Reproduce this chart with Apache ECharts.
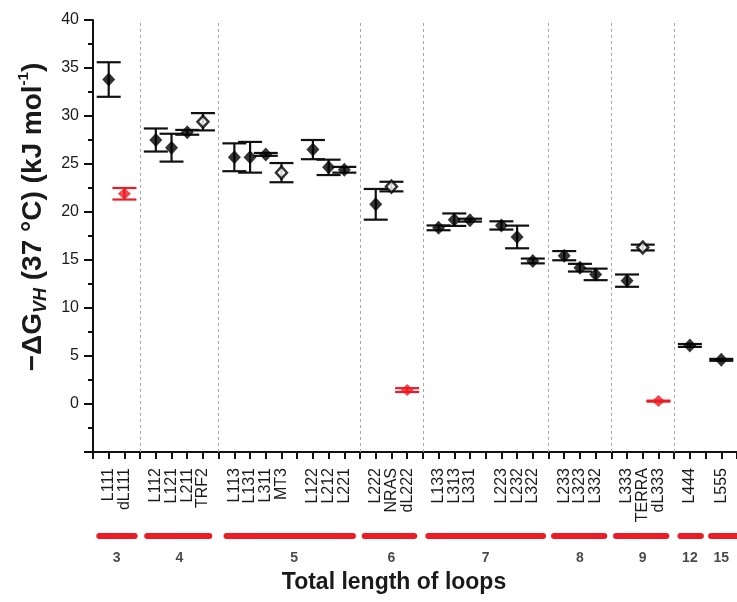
<!DOCTYPE html>
<html>
<head>
<meta charset="utf-8">
<script src="https://cdn.jsdelivr.net/npm/echarts@6/dist/echarts.min.js"></script>
<style>
html,body{margin:0;padding:0;background:#fff;}
#chart{width:737px;height:602px;}
</style>
</head>
<body>
<div id="chart"></div>
<script>
// ---- data ----
const sampleNames = ['L111','dL111','L112','L121','L211','TRF2','L113','L131','L311','MT3','L122','L212','L221','L222','NRAS','dL222','L133','L313','L331','L223','L232','L322','L233','L323','L332','L333','TERRA','dL333','L444','L555'];
const sampleSlots = [1,2,4,5,6,7,9,10,11,12,14,15,16,18,19,20,22,23,24,26,27,28,30,31,32,34,35,36,38,40];
const dGvh = [33.8,21.9,27.5,26.7,28.3,29.4,25.7,25.7,26.0,24.1,26.5,24.65,24.4,20.8,22.65,1.45,18.35,19.2,19.15,18.6,17.4,14.9,15.45,14.2,13.5,12.85,16.3,0.3,6.1,4.6];
const dGerr = [1.8,0.6,1.2,1.45,0.25,0.9,1.45,1.6,0.15,1.0,1.0,0.8,0.3,1.6,0.5,0.2,0.25,0.65,0.15,0.43,1.18,0.25,0.48,0.4,0.6,0.64,0.3,0.05,0.15,0.1];
const markerKind = ['f','r','f','f','f','o','f','f','f','o','f','f','f','f','o','r','f','f','f','f','f','f','f','f','f','f','o','r','f','f'];
const separators = [3,8,17,21,29,33,37];
const groupNames = ['3','4','5','6','7','8','9','12','15'];
const groupStart = [0.4,3.45,8.5,17.3,21.35,29.35,33.3,37.4,39.35];
const groupEnd = [2.65,7.4,16.55,20.45,28.65,32.55,36.5,38.7,41.2];
const groupLabelPos = [1.5,5.5,12.8,19,25,31,35,38,40];
const yTicks = [0,5,10,15,20,25,30,35,40];

const RED = '#ed1c24';
const FONT = '"Liberation Sans", Arial, sans-serif';
const TXT = '#1a1a1a';

const slotLabel = {};
sampleSlots.forEach((s,i)=>{slotLabel[s]=sampleNames[i];});

const pts = sampleSlots.map((s,i)=>[s, dGvh[i], dGerr[i], markerKind[i]]);

const chart = echarts.init(document.getElementById('chart'), null, {renderer:'canvas'});
chart.setOption({
  animation:false,
  backgroundColor:'#fff',
  title:{
    text:'Total length of loops', left:394, top:571, textAlign:'center', padding:0,
    textStyle:{fontFamily:FONT, fontSize:23, fontWeight:'bold', color:TXT}
  },
  grid:[
    {left:93, top:20, width:648, height:432},
    {left:93, top:536, width:648, height:22}
  ],
  xAxis:[
    {type:'value', gridIndex:0, min:0, max:41, interval:1,
      axisLine:{show:true, onZero:false, lineStyle:{color:'#111', width:2}},
      axisTick:{show:true, inside:false, length:7, lineStyle:{color:'#111', width:2}},
      splitLine:{show:false},
      axisLabel:{show:true, rotate:90, margin:16, fontFamily:FONT, fontSize:16, color:TXT,
        formatter:v=>slotLabel[v]||''}
    },
    {type:'value', gridIndex:1, min:0, max:41, show:false}
  ],
  yAxis:[
    {type:'value', gridIndex:0, min:-5, max:40, interval:5,
      axisLine:{show:true, lineStyle:{color:'#111', width:2}},
      axisTick:{show:true, inside:false, length:9, lineStyle:{color:'#111', width:2}},
      minorTick:{show:true, splitNumber:2, length:5, lineStyle:{color:'#111', width:2}},
      splitLine:{show:false},
      axisLabel:{margin:14, fontFamily:FONT, fontSize:16, color:TXT,
        formatter:v=>yTicks.indexOf(v)>=0?String(v):''},
      name:'{a|−ΔG}{sub|VH}{a| (37 °C) (kJ mol}{sup|-1}{a|)}',
      nameLocation:'middle', nameRotate:90, nameGap:38,
      nameTextStyle:{
        padding:[0,0,0,38],
        rich:{
          a:{fontFamily:FONT, fontSize:28, fontWeight:'bold', color:TXT, lineHeight:34},
          sub:{fontFamily:FONT, fontSize:18, fontWeight:'bold', fontStyle:'italic', color:TXT, lineHeight:18, verticalAlign:'bottom'},
          sup:{fontFamily:FONT, fontSize:15, fontWeight:'bold', color:TXT, lineHeight:16, verticalAlign:'top'}
        }
      }
    },
    {type:'value', gridIndex:1, min:0, max:1, show:false}
  ],
  series:[
    {
      type:'custom', xAxisIndex:0, yAxisIndex:0, z:2,
      data: pts,
      renderItem:(params, api)=>{
        const x = api.value(0), y = api.value(1), e = api.value(2);
        const k = pts[params.dataIndex][3];
        const col = k==='r' ? RED : '#111';
        const t = api.coord([x, y+e]);
        const b = api.coord([x, y-e]);
        const hw = 12;
        const st = {stroke:col, lineWidth:2.2};
        return {type:'group', children:[
          {type:'line', shape:{x1:t[0], y1:t[1], x2:b[0], y2:b[1]}, style:st},
          {type:'line', shape:{x1:t[0]-hw, y1:t[1], x2:t[0]+hw, y2:t[1]}, style:st},
          {type:'line', shape:{x1:b[0]-hw, y1:b[1], x2:b[0]+hw, y2:b[1]}, style:st}
        ]};
      },
      markLine:{
        silent:true, symbol:'none', label:{show:false},
        lineStyle:{color:'#a8a8a8', type:[3,3], width:1},
        data: separators.map(s=>({xAxis:s}))
      }
    },
    {
      type:'scatter', xAxisIndex:0, yAxisIndex:0, z:5,
      symbol:'diamond', symbolSize:[13,14],
      itemStyle:{color:'#000'},
      data: pts.filter(p=>p[3]==='f').map(p=>[p[0],p[1]])
    },
    {
      type:'scatter', xAxisIndex:0, yAxisIndex:0, z:5,
      symbol:'diamond', symbolSize:[11,12],
      itemStyle:{color:'#fff', borderColor:'#000', borderWidth:2.5},
      data: pts.filter(p=>p[3]==='o').map(p=>[p[0],p[1]])
    },
    {
      type:'scatter', xAxisIndex:0, yAxisIndex:0, z:5,
      symbol:'diamond', symbolSize:[13,12],
      itemStyle:{color:RED},
      data: pts.filter(p=>p[3]==='r').map(p=>[p[0],p[1]])
    },
    {
      type:'custom', xAxisIndex:1, yAxisIndex:1, z:2,
      data: groupStart.map((s,i)=>[s, groupEnd[i]]),
      renderItem:(params, api)=>{
        const a = api.coord([api.value(0), 1]);
        const b = api.coord([api.value(1), 1]);
        return {type:'line', shape:{x1:a[0], y1:a[1], x2:b[0], y2:b[1]},
          style:{stroke:RED, lineWidth:6, lineCap:'round'}};
      }
    },
    {
      type:'scatter', xAxisIndex:1, yAxisIndex:1, z:3,
      symbolSize:1, itemStyle:{color:'rgba(0,0,0,0)'},
      label:{show:true, position:'inside', fontFamily:FONT, fontSize:14, fontWeight:'bold', color:TXT,
        formatter:p=>groupNames[p.dataIndex]},
      data: groupLabelPos.map(x=>[x, 0])
    }
  ]
});
</script>
</body>
</html>
